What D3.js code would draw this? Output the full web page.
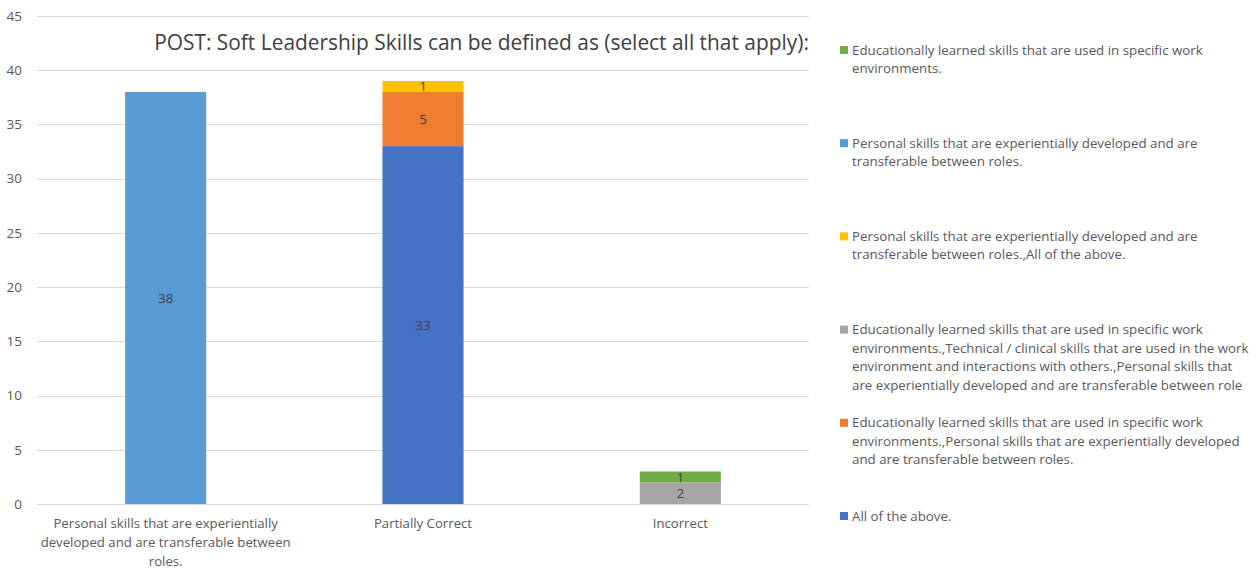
<!DOCTYPE html>
<html><head><meta charset="utf-8">
<script src="https://cdn.jsdelivr.net/npm/d3@7"></script>
<style>body{margin:0;background:#fff;} svg{display:block;font-family:"Open Sans","Liberation Sans",Arial,sans-serif;}</style>
</head><body>
<svg id="c" width="1259" height="569"></svg>
<script>
const title = "POST: Soft Leadership Skills can be defined as (select all that apply):";
const categories = ["Personal skills that are experientially developed and are transferable between roles.", "Partially Correct", "Incorrect"];
const categoryLines = [["Personal skills that are experientially", "developed and are transferable between", "roles."], ["Partially Correct"], ["Incorrect"]];
// stack order bottom -> top
const seriesNames = [
  "All of the above.",
  "Educationally learned skills that are used in specific work environments.,Personal skills that are experientially developed and are transferable between roles.",
  "Educationally learned skills that are used in specific work environments.,Technical / clinical skills that are used in the work environment and interactions with others.,Personal skills that are experientially developed and are transferable between role",
  "Personal skills that are experientially developed and are transferable between roles.,All of the above.",
  "Personal skills that are experientially developed and are transferable between roles.",
  "Educationally learned skills that are used in specific work environments."
];
const seriesLegendLines = [
  ["All of the above."],
  ["Educationally learned skills that are used in specific work", "environments.,Personal skills that are experientially developed", "and are transferable between roles."],
  ["Educationally learned skills that are used in specific work", "environments.,Technical / clinical skills that are used in the work", "environment and interactions with others.,Personal skills that", "are experientially developed and are transferable between role"],
  ["Personal skills that are experientially developed and are", "transferable between roles.,All of the above."],
  ["Personal skills that are experientially developed and are", "transferable between roles."],
  ["Educationally learned skills that are used in specific work", "environments."]
];
const seriesColors = ["#4472C4", "#ED7D31", "#A5A5A5", "#FFC000", "#5B9BD5", "#70AD47"];
const seriesValues = [
  [0, 33, 0],
  [0, 5, 0],
  [0, 0, 2],
  [0, 1, 0],
  [38, 0, 0],
  [0, 0, 1]
];
const yTicks = [0, 5, 10, 15, 20, 25, 30, 35, 40, 45];

const svg = d3.select("#c");
const m = {l: 37, r: 809, t: 16, b: 504};
const x = d3.scaleBand().domain(categories).range([m.l, m.r]).paddingInner(0.685).paddingOuter(0.3425);
const y = d3.scaleLinear().domain([0, 45]).range([m.b, m.t]);

// gridlines
svg.append("g").selectAll("line").data(yTicks).join("line")
  .attr("x1", m.l).attr("x2", m.r)
  .attr("y1", d => Math.round(y(d)) + 0.5).attr("y2", d => Math.round(y(d)) + 0.5)
  .attr("stroke", "#D9D9D9").attr("stroke-width", 1);

// y axis labels
const yAxis = d3.axisLeft(y).tickValues(yTicks).tickSize(0).tickPadding(0);
const ya = svg.append("g").attr("transform", "translate(22,0)").call(yAxis);
ya.select(".domain").remove();
ya.selectAll("text").attr("fill", "#595959").style("font-size", "13.5px").style("font-family", "Open Sans, Liberation Sans, Arial, sans-serif");

// stack
const rows = categories.map((c, i) => { const o = {cat: c}; seriesNames.forEach((s, j) => o[s] = seriesValues[j][i]); return o; });
const stack = d3.stack().keys(seriesNames)(rows);

const g = svg.append("g");
stack.forEach((layer, j) => {
  g.append("g").attr("fill", seriesColors[j]).selectAll("rect").data(layer.filter(d => d[1] - d[0] > 0)).join("rect")
    .attr("x", d => x(d.data.cat)).attr("width", x.bandwidth())
    .attr("y", d => y(d[1])).attr("height", d => y(d[0]) - y(d[1]));
  g.append("g").selectAll("text").data(layer.filter(d => d[1] - d[0] > 0)).join("text")
    .attr("x", d => x(d.data.cat) + x.bandwidth() / 2)
    .attr("y", d => (y(d[0]) + y(d[1])) / 2)
    .attr("dy", "0.36em").attr("text-anchor", "middle")
    .attr("fill", "#404040").style("font-size", "13.5px")
    .text(d => d[1] - d[0]);
});

// x labels
categories.forEach((c, i) => {
  const t = svg.append("text").attr("text-anchor", "middle").attr("fill", "#595959").style("font-size", "13.2px");
  categoryLines[i].forEach((ln, k) => {
    t.append("tspan").attr("x", x(c) + x.bandwidth() / 2).attr("y", 528 + k * 19).text(ln);
  });
});

// title
svg.append("text").attr("x", 481.5).attr("y", 50).attr("text-anchor", "middle")
  .attr("fill", "#404040").style("font-size", "20.9px").text(title);

// legend (reverse of stack order)
const legendOrder = d3.range(seriesNames.length).reverse();
legendOrder.forEach((j, k) => {
  const cy = 50 + k * 93.2;
  svg.append("rect").attr("x", 840).attr("y", cy - 4).attr("width", 8).attr("height", 8).attr("fill", seriesColors[j]);
  const t = svg.append("text").attr("fill", "#595959").style("font-size", "13.3px");
  seriesLegendLines[j].forEach((ln, l) => {
    t.append("tspan").attr("x", 852).attr("y", cy + 4.5 + l * 18.5).text(ln);
  });
});
</script>
</body></html>
